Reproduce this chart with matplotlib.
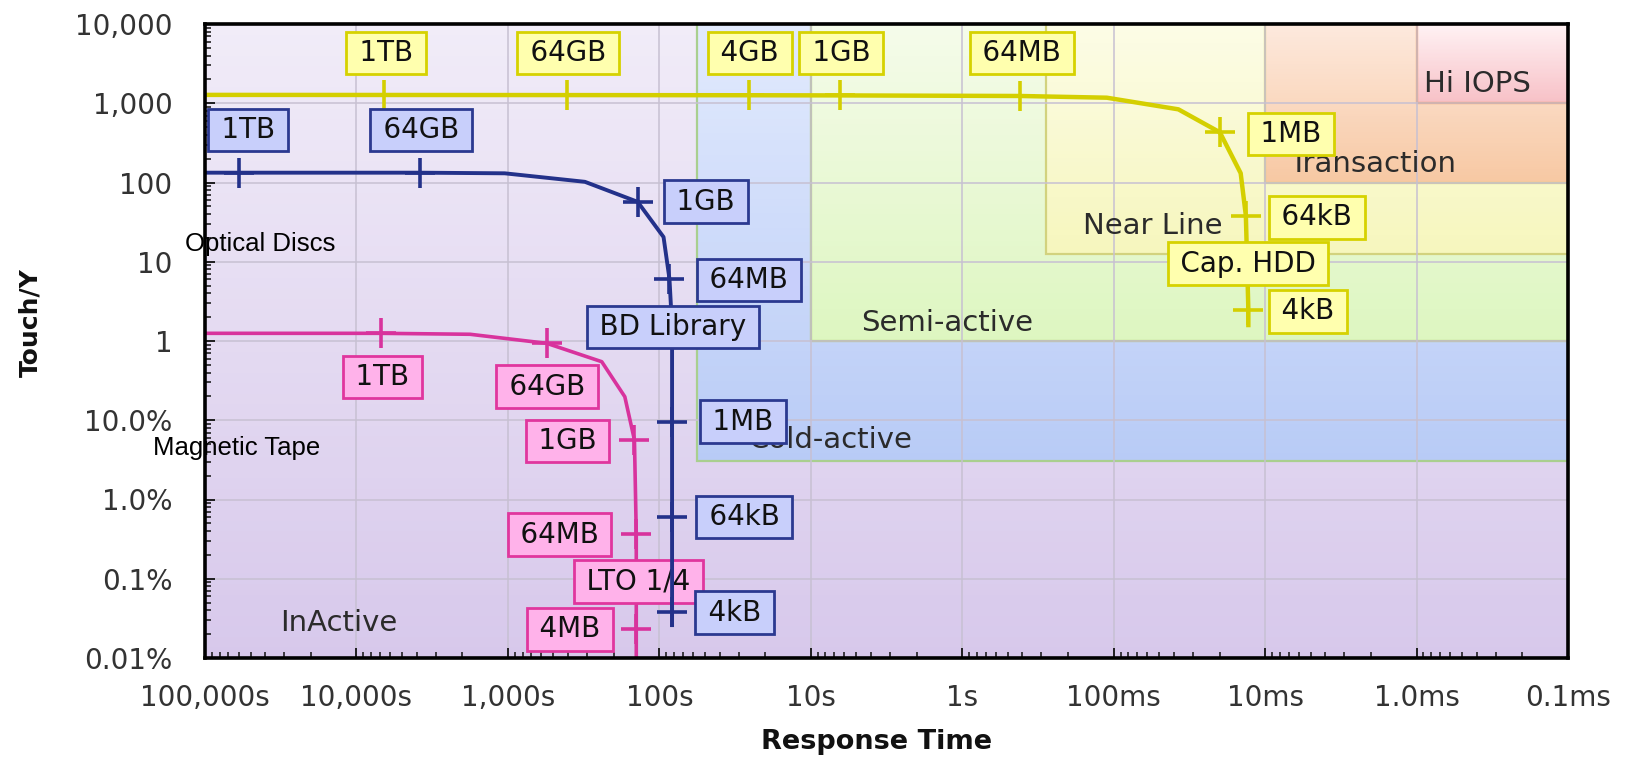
import numpy as np
import matplotlib
matplotlib.use("Agg")
import matplotlib.pyplot as plt
import matplotlib.colors as mcolors
from matplotlib.patches import Rectangle
from matplotlib.ticker import FixedLocator, FixedFormatter, LogLocator, NullFormatter

# ---------------- data ----------------
x_ticks = [1e5, 1e4, 1e3, 1e2, 1e1, 1e0, 1e-1, 1e-2, 1e-3, 1e-4]
x_ticklabels = ["100,000s", "10,000s", "1,000s", "100s", "10s", "1s",
                "100ms", "10ms", "1.0ms", "0.1ms"]
y_ticks = [1e-4, 1e-3, 1e-2, 1e-1, 1, 10, 100, 1000, 10000]
y_ticklabels = ["0.01%", "0.1%", "1.0%", "10.0%", "1", "10", "100", "1,000", "10,000"]

# zones (extend to fast edge and to top)
zone_names = ["Cold-active", "Semi-active", "Near Line", "Transaction", "Hi IOPS"]
zone_left = [56, 10, 0.28, 0.01, 0.001]          # slowest response time (s)
zone_bottom = [0.031, 1.0, 12.5, 100, 1000]      # lowest touch/Y
zone_label_x = [7.46, 1.26, 0.055, 0.00195, 0.000398]
zone_label_y = [0.0447, 1.34, 22.4, 137, 1400]
inactive_label = ("InActive", 13000, 0.000219)

# Capacity HDD curve
hdd_time = [1e5, 6580, 407, 25.4, 6.44, 0.415, 0.111, 0.0374, 0.0199, 0.0145, 0.0134, 0.0129, 0.0129]
hdd_touch = [1275, 1272, 1268, 1262, 1256, 1235, 1175, 838, 430, 131, 38.1, 2.46, 1.59]
hdd_marks = [1, 2, 3, 4, 5, 8, 10, 11]
hdd_labels = ["1TB", "64GB", "4GB", "1GB", "64MB", "1MB", "64kB", "Cap. HDD", "4kB"]
hdd_label_x = [6380, 401, 25.2, 6.3, 0.403, 0.00676, 0.00454, 0.01297, 0.00521]
hdd_label_y = [4300, 4300, 4300, 4300, 4300, 409, 36.2, 9.45, 2.36]

# BD library curve
bd_time = [1e5, 59600, 3820, 1050, 310, 139, 93.8, 85.7, 82.4, 82.4, 82.4, 82.4, 82.4]
bd_touch = [133, 133, 133, 130.6, 102, 57, 20.5, 6.05, 1.5, 0.095, 0.00607, 0.000384, 0.00026]
bd_marks = [1, 2, 5, 7, 9, 10, 11]
bd_labels = ["1TB", "64GB", "1GB", "64MB", "BD Library", "1MB", "64kB", "4kB"]
bd_label_x = [52000, 3750, 49.2, 25.6, 81.6, 28.1, 27.5, 31.9]
bd_label_y = [462, 462, 57.3, 5.89, 1.5, 0.096, 0.00605, 0.000373]

# LTO tape curve
lto_time = [1e5, 6880, 1778, 554, 240, 169, 146, 142, 142, 142]
lto_touch = [1.25, 1.25, 1.216, 0.935, 0.548, 0.198, 0.0564, 0.00367, 0.000232, 1e-4]
lto_marks = [1, 3, 6, 7, 8]
lto_labels = ["1TB", "64GB", "1GB", "64MB", "LTO 1/4", "4MB"]
lto_label_x = [6710, 552, 405, 456, 138, 387]
lto_label_y = [0.3515, 0.265, 0.0547, 0.00361, 0.000918, 0.000229]

# ---------------- styles ----------------
bg_colors = ("#f1ecf8", "#d7c8eb")
zone_colors = [("#e2eafd", "#b8cbf6", "#a9cf8f"),
               ("#f5fbea", "#ddf6c0", "#aac56a"),
               ("#fcfce6", "#f6f6bd", "#d2d27e"),
               ("#fde9dd", "#f7c8a3", "#d6cf6c"),
               ("#fff2f4", "#f7c0c6", "#f28a3e")]
XMIN, XMAX = 1e5, 1e-4
YMIN, YMAX = 1e-4, 1e4

fig = plt.figure(figsize=(16.25, 7.58), dpi=100)
ax = fig.add_axes([205 / 1625, 1 - 658 / 758, (1568 - 205) / 1625, (658 - 24) / 758])
ax.set_xscale("log")
ax.set_yscale("log")


def gradient_rect(x0, x1, y0, y1, ctop, cbot, z, n=60):
    ys = np.logspace(np.log10(y0), np.log10(y1), n + 1)
    c0 = np.array(mcolors.to_rgb(cbot))
    c1 = np.array(mcolors.to_rgb(ctop))
    for i in range(n):
        f = (i + 0.5) / n
        top = ys[min(i + 2, n)]
        ax.add_patch(Rectangle((x0, ys[i]), x1 - x0, top - ys[i],
                               facecolor=c0 + (c1 - c0) * f, edgecolor="none",
                               lw=0, zorder=z, antialiased=False))


gradient_rect(XMIN, XMAX, YMIN, YMAX, bg_colors[0], bg_colors[1], 0.05)
for k, (xl, yb) in enumerate(zip(zone_left, zone_bottom)):
    ct, cb, ce = zone_colors[k]
    z = 0.1 + 0.05 * k
    gradient_rect(xl, XMAX, yb, YMAX, ct, cb, z)
    ax.add_patch(Rectangle((xl, yb), XMAX - xl, YMAX - yb, fill=False,
                           edgecolor=ce, lw=1.6, zorder=z + 0.01))

ax.set_xlim(XMIN, XMAX)
ax.set_ylim(YMIN, YMAX)

# zone labels
for name, lx, ly in zip(zone_names, zone_label_x, zone_label_y):
    ax.text(lx, ly, name, ha="center", va="baseline", fontsize=21,
            color="#2b2b2b", zorder=1)
ax.text(inactive_label[1], inactive_label[2], inactive_label[0], ha="center",
        va="baseline", fontsize=21, color="#2b2b2b", zorder=1)

# curves
curves = [
    (hdd_time, hdd_touch, hdd_marks, "#d4cf00", 3.2, 2.0),
    (lto_time, lto_touch, lto_marks, "#d8339d", 2.6, 2.1),
    (bd_time, bd_touch, bd_marks, "#23318a", 2.8, 4.0),
]
for t, v, marks, col, lw, z in curves:
    ax.plot(t, v, color=col, lw=lw, zorder=z, solid_joinstyle="round")
    ax.plot([t[i] for i in marks], [v[i] for i in marks], ls="none", marker="+",
            ms=21, mew=2.6, color=col, zorder=z)

# labels
label_sets = [
    (hdd_labels, hdd_label_x, hdd_label_y, "#ffffae", "#d6d200", 5),
    (lto_labels, lto_label_x, lto_label_y, "#ffb2ea", "#e0369e", 3),
    (bd_labels, bd_label_x, bd_label_y, "#c8cffb", "#2b3990", 5),
]
for labels, lxs, lys, fc, ec, z in label_sets:
    for s, lx, ly in zip(labels, lxs, lys):
        ax.text(lx, ly, "\u2009" + s + "\u2009", ha="center", va="center",
                fontsize=20, color="#111111", zorder=z,
                bbox=dict(boxstyle="square,pad=0.26", facecolor=fc, edgecolor=ec, lw=2.0))

# ticks
ax.xaxis.set_major_locator(FixedLocator(x_ticks))
ax.xaxis.set_major_formatter(FixedFormatter(x_ticklabels))
ax.yaxis.set_major_locator(FixedLocator(y_ticks))
ax.yaxis.set_major_formatter(FixedFormatter(y_ticklabels))
ax.xaxis.set_minor_locator(LogLocator(base=10, subs=np.arange(2, 10), numticks=50))
ax.yaxis.set_minor_locator(LogLocator(base=10, subs=np.arange(2, 10), numticks=50))
ax.xaxis.set_minor_formatter(NullFormatter())
ax.yaxis.set_minor_formatter(NullFormatter())
ax.tick_params(which="both", direction="in", top=False, right=False, color="#111111")
ax.tick_params(which="major", length=7, width=1.3)
ax.tick_params(which="minor", length=4.5, width=1.1)
ax.tick_params(axis="x", which="major", pad=18.5, labelsize=20, labelcolor="#333333")
ax.tick_params(axis="y", which="major", pad=23.5, labelsize=20, labelcolor="#333333")

ax.set_axisbelow(True)
ax.grid(which="major", color="#c7c0d2", lw=1.1)
ax.grid(which="minor", visible=False)
for sp in ax.spines.values():
    sp.set_linewidth(2.6)
    sp.set_color("#000000")
    sp.set_zorder(10)

# annotations outside / near the axes
fig.text(185 / 1625, 1 - 251 / 758, "Optical Discs", fontsize=18.5,
         family="Liberation Sans", color="black", ha="left", va="baseline")
fig.text(153 / 1625, 1 - 455 / 758, "Magnetic Tape", fontsize=18.5,
         family="Liberation Sans", color="black", ha="left", va="baseline")
fig.text(877 / 1625, 1 - 742 / 758, "Response Time", fontsize=19.5, fontweight="bold",
         ha="center", va="center", color="#111111")
fig.text(30 / 1625, 1 - 323 / 758, "Touch/Y", fontsize=18, fontweight="bold",
         rotation=90, ha="center", va="center", color="#111111")

fig.savefig("out.png", dpi=100)
